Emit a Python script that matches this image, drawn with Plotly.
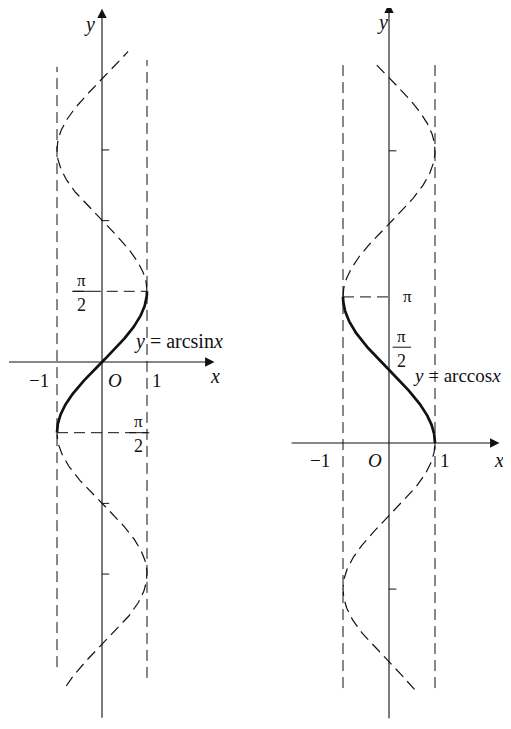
import numpy as np
import plotly.graph_objects as go

PI = np.pi

# left panel: y = arcsin x  (full curve x = sin y)
asin_solid_y = [-PI / 2, PI / 2]
asin_dash_low_y = [-7.2, -PI / 2]
asin_dash_high_y = [PI / 2, 6.9]
asin_ticks_y = [-3 * PI / 2, -PI, PI, 3 * PI / 2]
asin_bound_left_y = [-6.78, 6.56]
asin_bound_right_y = [-7.02, 6.71]

# right panel: y = arccos x  (full curve x = cos y)
acos_solid_y = [0, PI]
acos_dash_low_y = [-5.3, 0]
acos_dash_high_y = [PI, 8.2]
acos_ticks_y = [-PI, 2 * PI]
acos_bound_left_y = [-5.27, 8.17]
acos_bound_right_y = [-5.27, 8.19]

FONT = "Liberation Serif, Times New Roman, serif"
INK = "#111111"
DASH = "11px,6px"

# page has an 8px body margin; keep the height inside the window
W, H, OFF = 503, 713, 8

fig = go.Figure()


def curve(fn, yr, n=200):
    ys = np.linspace(yr[0], yr[1], n)
    return fn(ys), ys


def add_line(x, y, xa, ya, width=1.0, dash=None):
    fig.add_trace(
        go.Scatter(
            x=x, y=y, mode="lines", xaxis=xa, yaxis=ya,
            line=dict(color=INK, width=width, dash=dash),
            showlegend=False, hoverinfo="skip",
        )
    )


def add_text(text, x, y, xa, ya, size=19, xanchor="center", yanchor="middle"):
    fig.add_annotation(
        text=text, x=x, y=y, xref=xa, yref=ya, showarrow=False,
        font=dict(family=FONT, size=size, color=INK),
        xanchor=xanchor, yanchor=yanchor,
    )


def add_arrow(x0, y0, x1, y1, xa, ya):
    fig.add_annotation(
        x=x1, y=y1, ax=x0, ay=y0, xref=xa, yref=ya, axref=xa, ayref=ya,
        text="", showarrow=True, arrowhead=2, arrowsize=1.7,
        arrowwidth=1.1, arrowcolor=INK,
    )


def add_frac(x, y, xa, ya, bar=0.2):
    add_text("π", x, y + 0.24, xa, ya, size=17)
    add_line([x - bar, x + bar], [y, y], xa, ya, width=1)
    add_text("2", x, y - 0.3, xa, ya, size=18)


# ---- left panel
xa, ya = "x", "y"
add_arrow(-2.1, 0, 2.5, 0, xa, ya)
add_arrow(0, -7.94, 0, 7.85, xa, ya)
add_line([-1, -1], asin_bound_left_y, xa, ya, dash=DASH)
add_line([1, 1], asin_bound_right_y, xa, ya, dash=DASH)
add_line([-0.65, 1], [PI / 2, PI / 2], xa, ya, dash=DASH)
add_line([-1, 1.05], [-PI / 2, -PI / 2], xa, ya, dash=DASH)
for yr in (asin_dash_low_y, asin_dash_high_y):
    cx, cy = curve(np.sin, yr)
    add_line(cx, cy, xa, ya, width=1.2, dash=DASH)
cx, cy = curve(np.sin, asin_solid_y)
add_line(cx, cy, xa, ya, width=2.7)
for t in asin_ticks_y:
    add_line([0, 0.16], [t, t], xa, ya)
add_text("<i>y</i>", -0.27, 7.5, xa, ya, size=20)
add_text("<i>x</i>", 2.52, -0.3, xa, ya, size=20)
add_text("−1", -1.4, -0.4, xa, ya)
add_text("<i>O</i>", 0.28, -0.4, xa, ya)
add_text("1", 1.23, -0.4, xa, ya)
add_text("<i>y</i> = arcsin<i>x</i>", 0.66, 0.45, xa, ya, size=20, xanchor="left")
add_frac(-0.46, PI / 2, xa, ya)
add_frac(0.8, -PI / 2, xa, ya)

# ---- right panel
xa, ya = "x2", "y2"
add_arrow(-2.15, 0, 2.4, 0, xa, ya)
add_arrow(0, -5.95, 0, 9.45, xa, ya)
add_line([-1, -1], acos_bound_left_y, xa, ya, dash=DASH)
add_line([1, 1], acos_bound_right_y, xa, ya, dash=DASH)
add_line([-1, 0], [PI, PI], xa, ya, dash=DASH)
for yr in (acos_dash_low_y, acos_dash_high_y):
    cx, cy = curve(np.cos, yr)
    add_line(cx, cy, xa, ya, width=1.2, dash=DASH)
cx, cy = curve(np.cos, acos_solid_y)
add_line(cx, cy, xa, ya, width=2.7)
for t in acos_ticks_y:
    add_line([0, 0.16], [t, t], xa, ya)
add_text("<i>y</i>", -0.15, 9.05, xa, ya, size=20)
add_text("<i>x</i>", 2.4, -0.37, xa, ya, size=20)
add_text("−1", -1.5, -0.37, xa, ya)
add_text("<i>O</i>", -0.3, -0.37, xa, ya)
add_text("1", 1.22, -0.37, xa, ya)
add_text("π", 0.4, PI, xa, ya, size=17)
add_text("<i>y</i> = arccos<i>x</i>", 0.48, 1.45, xa, ya, size=19, xanchor="left")
add_frac(0.28, 2.06, xa, ya)

# reference pixel positions of the origins, shifted by the body margin
lx0, ly0, lsx, lsy = 102 - OFF, 362 - OFF, 45, 45
split = 255 - OFF
rx0, ry0, rsx, rsy = 389 - OFF - split, 443 - OFF, 46, 46.5

hidden = dict(visible=False, showgrid=False, zeroline=False, fixedrange=True)
fig.update_layout(
    width=W,
    height=H,
    margin=dict(l=0, r=0, t=0, b=0),
    paper_bgcolor="white",
    plot_bgcolor="white",
    xaxis=dict(domain=[0, split / W], range=[-lx0 / lsx, (split - lx0) / lsx], **hidden),
    yaxis=dict(domain=[0, 1], range=[-(H - ly0) / lsy, ly0 / lsy], **hidden),
    xaxis2=dict(domain=[split / W, 1], range=[-rx0 / rsx, (W - split - rx0) / rsx],
                anchor="y2", **hidden),
    yaxis2=dict(domain=[0, 1], range=[-(H - ry0) / rsy, ry0 / rsy], anchor="x2", **hidden),
)

fig.write_html("out.html")
